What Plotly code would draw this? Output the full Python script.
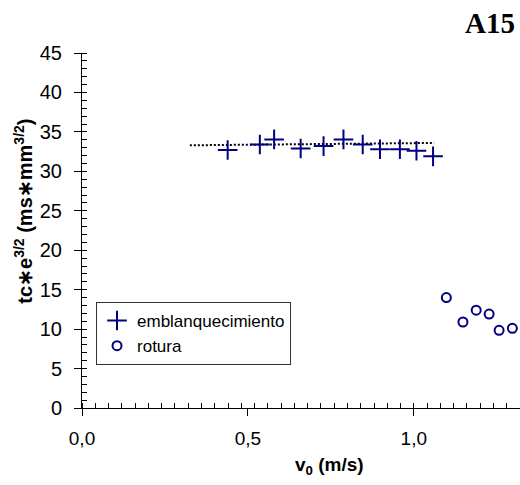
import plotly.graph_objs as go

# emblanquecimiento (+)
blanch_v = [0.439, 0.536, 0.579, 0.659, 0.728, 0.788, 0.846, 0.898, 0.958, 1.008, 1.058]
blanch_tc = [32.7, 33.4, 34.05, 32.9, 33.2, 34.05, 33.4, 32.8, 32.8, 32.6, 31.9]

# rotura (o)
break_v = [1.098, 1.148, 1.188, 1.227, 1.257, 1.297]
break_tc = [14.0, 10.9, 12.4, 11.9, 9.85, 10.1]

# dotted trend line
trend_v = [0.325, 1.061]
trend_tc = [33.3, 33.6]

x_tickvals = [0.0, 0.5, 1.0]
x_ticktext = ['0,0', '0,5', '1,0']

NAVY = '#000080'
FONT = 'Liberation Sans, Arial, sans-serif'

fig = go.Figure()

fig.add_trace(go.Scatter(
    x=trend_v, y=trend_tc,
    mode='lines',
    line=dict(color='black', width=2, dash='2px,2px'),
    showlegend=False,
    hoverinfo='skip'
))

fig.add_trace(go.Scatter(
    name='emblanquecimiento',
    x=blanch_v, y=blanch_tc,
    mode='markers',
    marker=dict(symbol='cross-thin', size=14, color=NAVY,
                line=dict(color=NAVY, width=2)),
    cliponaxis=False
))

fig.add_trace(go.Scatter(
    name='rotura',
    x=break_v, y=break_tc,
    mode='markers',
    marker=dict(symbol='circle-open', size=9, color=NAVY,
                line=dict(color=NAVY, width=2)),
    cliponaxis=False
))

fig.update_xaxes(
    range=[0, 1.32],
    showline=True, linecolor='black', linewidth=1,
    showgrid=False, zeroline=False,
    tickmode='array', tickvals=x_tickvals, ticktext=x_ticktext,
    ticks='outside', ticklen=7, tickcolor='black', tickwidth=1,
    minor=dict(dtick=0.04, tick0=0, ticks='inside', ticklen=5,
               tickcolor='black', tickwidth=1, showgrid=False),
    tickfont=dict(family=FONT, size=19, color='black'),
    ticklabelstandoff=6
)

fig.update_yaxes(
    range=[0, 45],
    showline=True, linecolor='black', linewidth=1,
    showgrid=False, zeroline=False,
    dtick=5, tick0=0,
    ticks='outside', ticklen=7, tickcolor='black', tickwidth=1,
    minor=dict(dtick=1, ticks='inside', ticklen=5,
               tickcolor='black', tickwidth=1, showgrid=False),
    tickfont=dict(family=FONT, size=20, color='black'),
    ticklabelstandoff=8
)

fig.update_layout(
    width=520, height=485,
    margin=dict(l=82, r=0, t=53, b=77),
    plot_bgcolor='white',
    paper_bgcolor='white',
    showlegend=True,
    legend=dict(
        x=0.032, y=0.2986, xanchor='left', yanchor='top',
        bordercolor='#333333', borderwidth=1, bgcolor='white',
        font=dict(family=FONT, size=17, color='black'),
        itemwidth=30, tracegroupgap=0,
        entrywidth=170, entrywidthmode='pixels'
    ),
    annotations=[
        dict(text='tc∗e<sup>3/2</sup> (ms∗mm<sup>3/2</sup>)',
             xref='paper', yref='paper', x=-0.133, y=0.555,
             xanchor='center', yanchor='middle', textangle=-90,
             showarrow=False,
             font=dict(family=FONT, size=20, color='black', weight='bold')),
        dict(text='v<sub>0</sub> (m/s)',
             xref='paper', yref='paper', x=0.566, y=-0.163,
             xanchor='center', yanchor='middle',
             showarrow=False,
             font=dict(family=FONT, size=19, color='black', weight='bold')),
        dict(text='A15',
             xref='paper', yref='paper', x=0.994, y=1.135,
             xanchor='right', yanchor='top',
             showarrow=False,
             font=dict(family='Liberation Serif, Times New Roman, serif',
                       size=29, color='black', weight='bold')),
    ]
)

fig.write_html("out.html",
               config={'displayModeBar': False},
               post_script="document.body.style.margin='0';"
                           "document.body.style.overflow='hidden';")
